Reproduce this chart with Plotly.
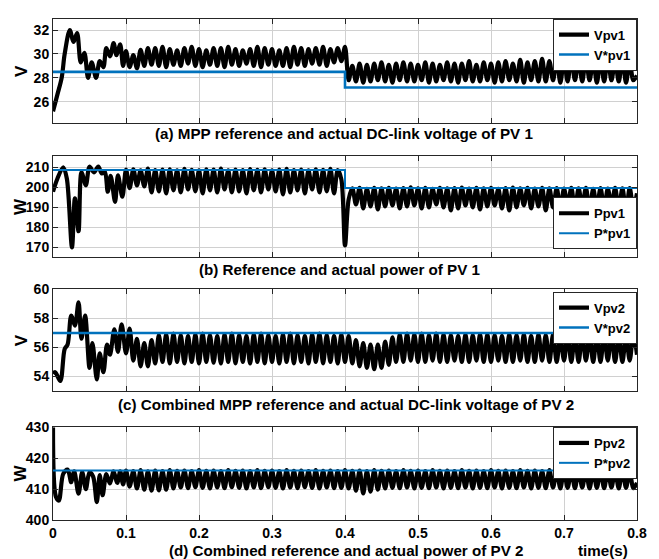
import numpy as np
import plotly.graph_objects as go

# ---------------- DATA ----------------
x_tick_vals = [0, 0.1, 0.2, 0.3, 0.4, 0.5, 0.6, 0.7, 0.8]
x_tick_text = ["0", "0.1", "0.2", "0.3", "0.4", "0.5", "0.6", "0.7", "0.8"]

# regular sampling of steady part (0.1 s .. 0.8 s, 5 ms)
t_steady = np.round(np.linspace(0.1, 0.8, 141), 4)

# ---- Panel (a) Vpv1 ----
vpv1_t_tr = [0.000, 0.006, 0.012, 0.016, 0.023, 0.028, 0.033, 0.038, 0.043, 0.048,
             0.053, 0.059, 0.064, 0.069, 0.073, 0.078, 0.083, 0.087, 0.092, 0.096]
vpv1_v_tr = [25.2, 26.6, 28.05, 30.0, 32.0, 31.0, 31.75, 29.3, 30.1, 28.0,
             29.3, 28.0, 29.4, 28.9, 30.5, 29.8, 30.9, 29.9, 30.8, 29.0]
vpv1_v_ss = [
    30.25, 28.9, 29.9, 28.8, 30.35, 29.0, 30.5, 29.1, 30.5, 29.0,
    30.6, 28.9, 30.4, 29.1, 30.3, 29.0, 30.5, 29.2, 30.6, 29.0,
    30.4, 28.9, 30.3, 29.1, 30.5, 29.0, 30.5, 28.9, 30.6, 29.1,
    30.4, 29.0, 30.3, 29.2, 30.4, 29.0, 30.6, 28.9, 30.5, 29.1,
    30.4, 29.0, 30.3, 29.0, 30.5, 28.9, 30.6, 29.1, 30.5, 29.0,
    30.4, 29.2, 30.5, 29.1, 30.6, 29.0, 30.4, 29.3, 30.5, 29.4,
    30.6, 27.8, 29.0, 27.7, 29.2, 27.6, 29.1, 27.7, 29.2, 27.8,
    29.3, 27.7, 29.1, 27.6, 29.2, 27.8, 29.3, 27.7, 29.2, 27.7,
    29.1, 27.8, 29.3, 27.6, 29.2, 27.7, 29.1, 27.8, 29.3, 27.7,
    29.2, 27.6, 29.2, 27.8, 29.4, 27.7, 29.1, 27.7, 29.3, 27.8,
    29.2, 27.6, 29.3, 27.7, 29.4, 27.8, 29.2, 27.7, 29.5, 27.6,
    29.3, 27.8, 29.4, 27.7, 29.6, 27.7, 29.4, 27.8, 29.6, 27.6,
    29.5, 27.7, 29.7, 27.8, 29.5, 27.7, 29.6, 27.8, 29.4, 27.6,
    29.5, 27.7, 29.6, 27.8, 29.4, 27.7, 29.5, 27.6, 29.4, 27.8,
    28.2,
]
vref1_t = [0.0, 0.4, 0.8]
vref1_v = [28.5, 27.2, 27.2]

# ---- Panel (b) Ppv1 ----
ppv1_t_tr = [0.000, 0.006, 0.014, 0.019, 0.026, 0.030, 0.035, 0.039, 0.045, 0.050,
             0.056, 0.062, 0.067, 0.071, 0.075, 0.079, 0.085, 0.089, 0.095]
ppv1_v_tr = [197.8, 204.3, 210.0, 204.3, 170.0, 194.5, 178.1, 207.5, 201.0, 210.3,
             207.5, 210.3, 206.9, 208.0, 197.8, 205.7, 192.8, 206.0, 195.3]
ppv1_v_ss = [
    208.8, 199.6, 209.0, 201.0, 208.5, 200.5, 209.3, 197.5, 208.6, 198.0,
    208.8, 197.0, 209.0, 198.5, 208.5, 197.5, 209.2, 199.0, 208.7, 198.0,
    208.5, 197.0, 209.0, 198.5, 208.8, 197.5, 209.3, 199.0, 208.5, 197.5,
    208.9, 198.0, 208.6, 197.0, 209.1, 198.5, 208.7, 197.5, 209.0, 199.0,
    208.5, 198.0, 208.8, 196.5, 209.2, 197.5, 208.6, 198.5, 208.9, 197.0,
    208.5, 199.0, 209.0, 197.5, 208.7, 198.0, 209.2, 197.0, 208.6, 204.0,
    171.0, 194.0, 199.5, 191.5, 199.8, 189.5, 199.3, 190.5, 199.7, 189.0,
    199.5, 190.5, 199.8, 191.0, 199.4, 189.5, 199.6, 190.5, 200.0, 191.0,
    199.5, 189.5, 199.7, 190.0, 199.3, 191.5, 199.8, 190.0, 199.5, 188.5,
    199.6, 189.5, 199.9, 191.0, 199.4, 190.0, 199.7, 189.0, 199.5, 190.5,
    199.8, 191.0, 199.3, 189.5, 199.6, 188.5, 199.9, 190.0, 199.5, 191.0,
    199.7, 189.5, 199.4, 190.5, 199.8, 188.5, 199.5, 190.0, 199.6, 189.5,
    199.4, 191.0, 199.7, 189.0, 199.5, 190.5, 199.8, 188.5, 199.3, 190.0,
    199.6, 189.5, 199.4, 191.0, 199.7, 189.0, 199.5, 188.5, 199.6, 190.0,
    197.0,
]
pref1_t = [0.0, 0.4, 0.8]
pref1_v = [208.7, 199.7, 199.7]

# ---- Panel (c) Vpv2 ----
vpv2_t_tr = [0.000, 0.003, 0.010, 0.016, 0.020, 0.025, 0.030, 0.035, 0.039, 0.044,
             0.050, 0.054, 0.060, 0.064, 0.069, 0.074, 0.078, 0.084, 0.089, 0.094]
vpv2_v_tr = [54.2, 54.3, 53.7, 55.9, 56.2, 58.2, 57.5, 59.1, 56.6, 58.2,
             54.6, 56.3, 53.8, 55.6, 54.3, 56.2, 55.5, 57.25, 55.7, 57.6]
vpv2_v_ss = [
    55.6, 57.3, 55.1, 56.6, 54.7, 56.3, 54.7, 56.5, 54.9, 56.85,
    55.0, 56.9, 54.9, 56.95, 55.0, 56.85, 54.9, 56.8, 55.0, 56.9,
    54.9, 56.95, 55.0, 56.85, 54.95, 56.8, 54.9, 56.9, 55.0, 56.95,
    54.9, 56.85, 55.0, 56.8, 54.9, 56.9, 55.0, 56.95, 54.9, 56.85,
    55.0, 56.8, 54.9, 56.9, 55.0, 56.95, 54.9, 56.85, 55.0, 56.8,
    54.9, 56.9, 55.0, 56.95, 54.9, 56.85, 55.0, 56.8, 54.9, 56.9,
    55.0, 56.8, 54.9, 56.5, 54.7, 56.3, 54.6, 56.2, 54.5, 56.2,
    54.6, 56.4, 54.8, 56.7, 55.0, 56.9, 55.0, 56.95, 55.1, 56.9,
    55.0, 56.95, 55.0, 56.85, 55.1, 56.95, 55.0, 56.9, 55.0, 56.85,
    55.1, 56.8, 55.0, 56.9, 55.0, 56.85, 55.1, 56.9, 55.0, 56.9,
    55.0, 56.85, 55.1, 56.8, 55.0, 56.9, 55.0, 56.85, 55.1, 56.9,
    55.0, 56.8, 55.0, 56.9, 55.1, 56.85, 55.0, 56.9, 55.0, 56.8,
    55.1, 56.9, 55.0, 56.85, 55.0, 56.9, 55.1, 56.8, 55.0, 56.9,
    55.0, 56.85, 55.1, 56.9, 55.0, 56.85, 55.0, 56.8, 55.1, 56.9,
    55.5,
]
vref2_t = [0.0, 0.8]
vref2_v = [57.0, 57.0]

# ---- Panel (d) Ppv2 ----
ppv2_t_tr = [0.000, 0.004, 0.008, 0.014, 0.020, 0.025, 0.029, 0.035, 0.040, 0.045,
             0.050, 0.055, 0.060, 0.064, 0.068, 0.073, 0.078, 0.083, 0.088, 0.092, 0.096]
ppv2_v_tr = [430.0, 407.5, 406.3, 414.9, 416.3, 412.2, 415.7, 408.5, 415.5, 410.0,
             415.5, 414.0, 405.8, 414.5, 408.0, 414.8, 411.8, 415.7, 412.0, 415.7, 411.5]
ppv2_v_ss = [
    416.0, 410.8, 415.8, 410.2, 416.1, 409.8, 415.7, 409.5, 416.0, 409.6,
    415.8, 409.8, 416.1, 410.2, 415.9, 410.5, 416.0, 410.3, 415.8, 410.6,
    416.1, 410.4, 415.9, 410.2, 416.0, 410.5, 415.8, 410.3, 416.1, 410.6,
    415.9, 410.4, 416.0, 410.2, 415.8, 410.5, 416.1, 410.3, 415.9, 410.6,
    416.0, 410.4, 415.8, 410.2, 416.1, 410.5, 415.9, 410.3, 416.0, 410.6,
    415.8, 410.4, 416.1, 410.2, 415.9, 410.5, 416.0, 410.3, 415.8, 410.4,
    416.1, 410.2, 415.9, 409.5, 416.0, 408.6, 415.8, 409.2, 416.1, 409.8,
    415.9, 410.2, 416.0, 410.4, 415.8, 410.3, 416.1, 410.5, 415.9, 410.2,
    416.0, 410.4, 415.8, 410.3, 416.1, 410.5, 415.9, 410.2, 416.0, 410.4,
    415.8, 410.3, 416.1, 410.5, 415.9, 410.2, 416.0, 410.4, 415.8, 410.3,
    416.1, 410.5, 415.9, 410.2, 416.0, 410.4, 415.8, 410.3, 416.1, 410.5,
    415.9, 410.2, 416.0, 410.4, 415.8, 410.3, 416.1, 410.5, 415.9, 410.2,
    416.0, 410.4, 415.8, 410.3, 416.1, 410.5, 415.9, 410.2, 416.0, 410.4,
    415.8, 410.3, 416.1, 410.5, 415.9, 410.2, 416.0, 410.4, 415.8, 410.3,
    412.0,
]
pref2_t = [0.0, 0.8]
pref2_v = [416.0, 416.0]

panels = [
    dict(t_tr=vpv1_t_tr, v_tr=vpv1_v_tr, v_ss=vpv1_v_ss, rt=vref1_t, rv=vref1_v,
         name="Vpv1", rname="V*pv1", unit="V", yrange=[24.2, 32.95], yticks=[26, 28, 30, 32],
         caption="(a) MPP reference and actual DC-link voltage of PV 1"),
    dict(t_tr=ppv1_t_tr, v_tr=ppv1_v_tr, v_ss=ppv1_v_ss, rt=pref1_t, rv=pref1_v,
         name="Ppv1", rname="P*pv1", unit="W", yrange=[165.0, 215.4], yticks=[170, 180, 190, 200, 210],
         caption="(b) Reference and actual power of PV 1"),
    dict(t_tr=vpv2_t_tr, v_tr=vpv2_v_tr, v_ss=vpv2_v_ss, rt=vref2_t, rv=vref2_v,
         name="Vpv2", rname="V*pv2", unit="V", yrange=[53.0, 60.0], yticks=[54, 56, 58, 60],
         caption="(c) Combined MPP reference and actual DC-link voltage of PV 2"),
    dict(t_tr=ppv2_t_tr, v_tr=ppv2_v_tr, v_ss=ppv2_v_ss, rt=pref2_t, rv=pref2_v,
         name="Ppv2", rname="P*pv2", unit="W", yrange=[400.0, 430.0], yticks=[400, 410, 420, 430],
         caption="(d) Combined reference and actual power of PV 2"),
]

# ---------------- LAYOUT ----------------
W, H = 659, 559
ML, MR, MT, MB = 53, 22, 10, 39
PH = H - MT - MB
PW = W - ML - MR

panel_px = [(10.7, 117.0), (150.7, 253.3), (285.7, 389.0), (425.7, 520.0)]
caption_px = [(344, 127), (340, 265), (346, 403), (346, 550.5)]
legend_cfg = [
    dict(y=10.7, anchor="top"),
    dict(y=245.0, anchor="bottom"),
    dict(y=288.0, anchor="top"),
    dict(y=425.5, anchor="top"),
]

def py(px):
    return (H - MB - px) / PH

def pxx(px):
    return (px - ML) / PW

FONT = "Liberation Sans, Arial, sans-serif"
BLACK = "#000000"
BLUE = "#0072BD"

fig = go.Figure()
layout = dict(
    width=W, height=H, margin=dict(l=ML, r=MR, t=MT, b=MB),
    paper_bgcolor="white", plot_bgcolor="white", showlegend=True,
    font=dict(family=FONT, size=13, color="black", weight="bold"),
)
annotations = []

for i, p in enumerate(panels):
    n = i + 1
    xa = "x" if n == 1 else f"x{n}"
    ya = "y" if n == 1 else f"y{n}"
    lg = "legend" if n == 1 else f"legend{n}"
    t_all = list(p["t_tr"]) + list(t_steady)
    v_all = list(p["v_tr"]) + list(p["v_ss"])
    fig.add_trace(go.Scatter(x=t_all, y=v_all, mode="lines", name=p["name"],
                             line=dict(color=BLACK, width=4.2, shape="spline", smoothing=0.9),
                             xaxis=xa, yaxis=ya, legend=lg))
    fig.add_trace(go.Scatter(x=p["rt"], y=p["rv"], mode="lines", name=p["rname"],
                             line=dict(color=BLUE, width=2.6 if n in (1, 3) else 2.0, shape="hv"),
                             xaxis=xa, yaxis=ya, legend=lg))
    top, bot = panel_px[i]
    axis_common = dict(showline=True, linecolor="#262626", linewidth=1, mirror="ticks",
                       ticks="inside", ticklen=5, tickcolor="#262626",
                       showgrid=True, gridcolor="#d0d0d0", gridwidth=1, zeroline=False,
                       tickfont=dict(family=FONT, size=14, color="black", weight="bold"))
    layout[f"xaxis{'' if n == 1 else n}"] = dict(
        axis_common, domain=[0, 1], range=[0, 0.8], anchor=ya,
        tickvals=x_tick_vals, ticktext=x_tick_text, showticklabels=(n == 4),
        ticklabelstandoff=0,
        **({} if n == 1 else {"matches": "x"}))
    layout[f"yaxis{'' if n == 1 else n}"] = dict(
        axis_common, domain=[py(bot), py(top)], range=p["yrange"], anchor=xa,
        tickvals=p["yticks"])
    lc = legend_cfg[i]
    layout[lg] = dict(x=1.0, xanchor="right", xref="paper",
                      y=py(lc["y"]), yanchor=lc["anchor"], yref="paper",
                      bgcolor="white", bordercolor="#262626", borderwidth=1,
                      font=dict(family=FONT, size=13, color="black", weight="bold"),
                      itemwidth=30, tracegroupgap=0)
    annotations.append(dict(text=p["unit"], xref="paper", yref="paper",
                            x=pxx(21), y=py((top + bot) / 2), showarrow=False,
                            textangle=-90, xanchor="center", yanchor="middle",
                            font=dict(family=FONT, size=17, color="black", weight="bold")))
    cx, cy = caption_px[i]
    annotations.append(dict(text=p["caption"], xref="paper", yref="paper",
                            x=pxx(cx), y=py(cy), showarrow=False,
                            xanchor="center", yanchor="middle",
                            font=dict(family=FONT, size=15.2, color="black", weight="bold")))

annotations.append(dict(text="time(s)", xref="paper", yref="paper",
                        x=pxx(603), y=py(550.5), showarrow=False,
                        xanchor="center", yanchor="middle",
                        font=dict(family=FONT, size=15.2, color="black", weight="bold")))
layout["annotations"] = annotations
fig.update_layout(**layout)
fig.write_html("out.html")
